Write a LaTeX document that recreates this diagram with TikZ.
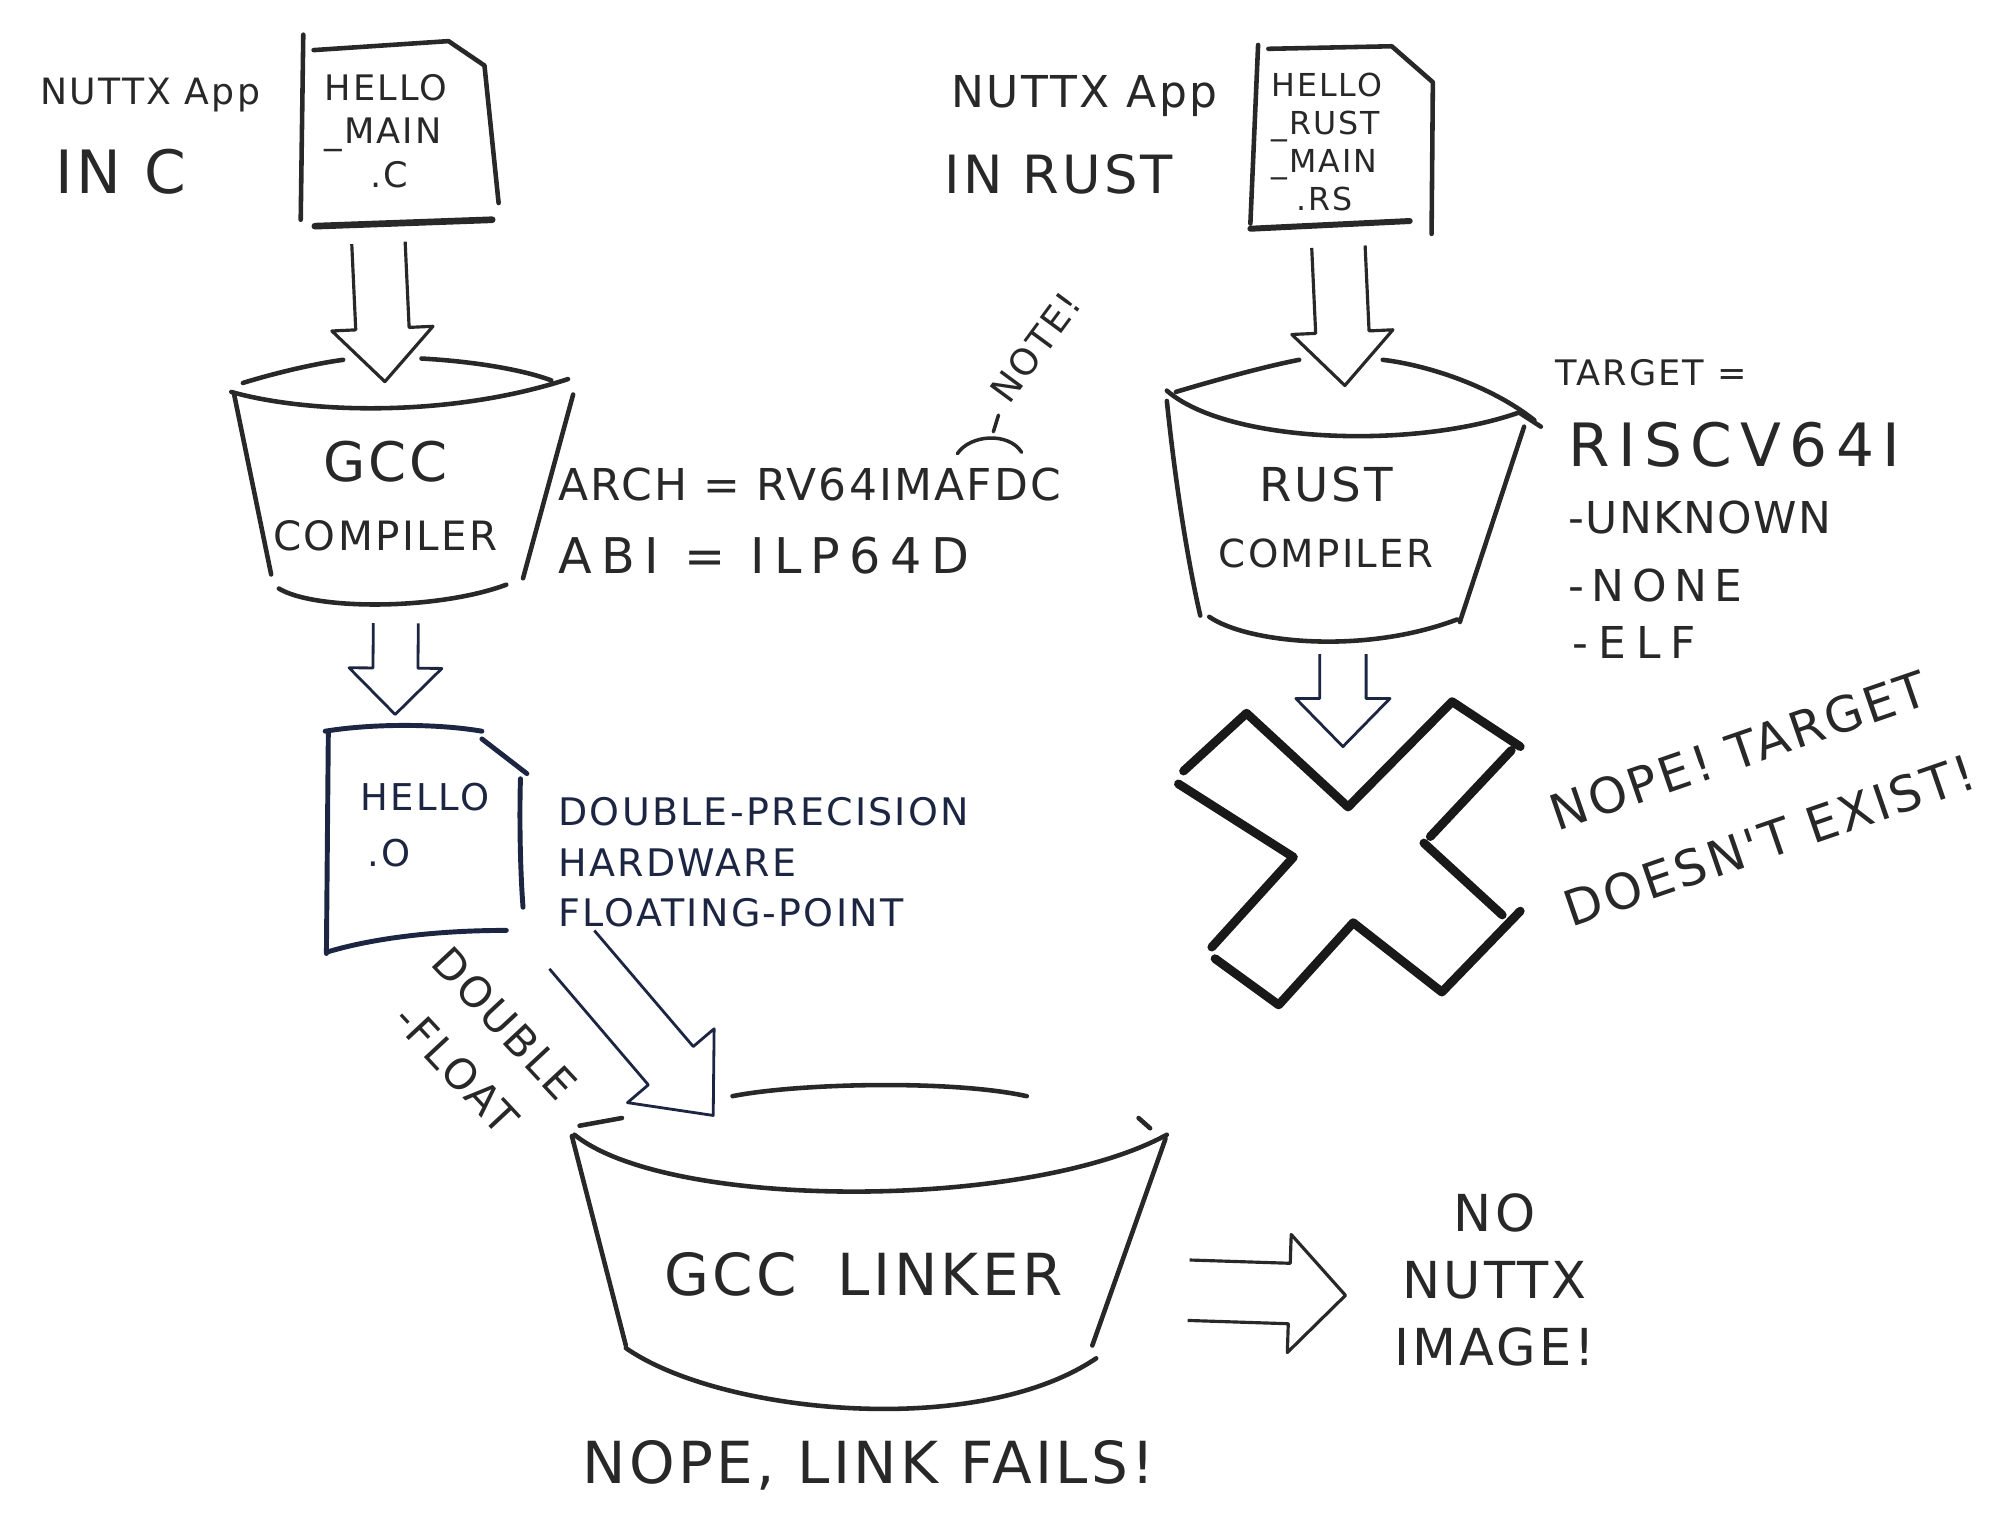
\documentclass[tikz,border=0pt]{standalone}
\usepackage{fontspec}
\setmainfont{DejaVu Sans}
\newfontfamily\handfont{DejaVu Sans}
\usetikzlibrary{calc}
\definecolor{inkc}{RGB}{40,40,40}
\definecolor{navyc}{RGB}{28,38,66}

% hand lettering: size, baselineskip, letter spacing
\newcommand{\hw}[3]{\handfont\fontsize{#1}{#2}\selectfont\addfontfeatures{LetterSpace=#3}}

% hollow block arrow: [style]{from}{to}{shaft}{head}{head length}
\newcommand{\fatarrow}[6][]{%
  \coordinate (fa-h) at ($(#3)!#6!(#2)$);
  \draw[#1] ($(#2)!#4!90:(#3)$) -- ($(fa-h)!#4!90:(#3)$)
    -- ($(fa-h)!#5!90:(#3)$) -- (#3) -- ($(fa-h)!#5!-90:(#3)$)
    -- ($(fa-h)!#4!-90:(#3)$) -- ($(#2)!#4!-90:(#3)$);}

\begin{document}
\begin{tikzpicture}[x=0.01285cm, y=-0.01285cm,
  pen/.style={draw=inkc, line width=1.3pt, line cap=round, line join=round},
  bluepen/.style={draw=navyc, line width=1.4pt, line cap=round, line join=round},
  arrowpen/.style={draw=inkc, line width=0.9pt, line join=round},
  bluearrow/.style={draw=navyc, line width=0.8pt, line join=round},
  fatpen/.style={draw=black!90, line width=2.5pt, line cap=round, line join=round},
  txt/.style={inner sep=0pt, text=inkc},
  bluetxt/.style={inner sep=0pt, text=navyc}]
  \useasboundingbox (0,0) rectangle (1568,1194);

  % C app
  \node[txt, font=\hw{10.3}{12}{6}] (capp) at (117,74) {NUTTX App};
  \node[txt, font=\hw{17}{20}{6}] (clang) at (94,134) {IN C};
  \draw[pen] (236,27) -- (234,171);
  \draw[pen] (244,39) -- (349,32) -- (377,51) -- (388,158);
  \draw[pen, line width=1.9pt] (245,176) -- (383,171);
  \node[txt, align=left, anchor=north west, font=\hw{10}{12.5}{6}] (csrc) at (252,57) {HELLO\\\_MAIN\\\hspace{1.3em}.C};

  \coordinate (a1s) at (294.5,189);
  \coordinate (a1e) at (299.5,297);
  \fatarrow[arrowpen]{a1s}{a1e}{7.6pt}{14.4pt}{15.1pt}

  % GCC compiler
  \draw[pen] (189,298) .. controls (215,290) and (245,283) .. (267,280);
  \draw[pen] (328,279) .. controls (365,281) and (405,287) .. (429,296);
  \draw[pen] (180,305) .. controls (240,322) and (350,325) .. (442,295);
  \draw[pen] (182,306) -- (211,447);
  \draw[pen] (446,307) -- (407,450);
  \draw[pen] (217,458) .. controls (245,475) and (340,475) .. (394,455);
  \node[txt, align=center, anchor=north, font=\hw{11.5}{19.5}{6}] (gcc) at (300,343) {{\hw{15.5}{19.5}{6}GCC}\\COMPILER};

  \node[txt, anchor=west, font=\hw{12.5}{15}{5}] (arch) at (434,377) {ARCH = RV64IMAFDC};
  \node[txt, anchor=west, font=\hw{14}{17}{19}] (abi) at (434,432) {ABI = ILP64D};
  \draw[pen, line width=1pt] (745,353) .. controls (755,338) and (785,336) .. (795,352);
  \draw[pen, line width=1pt] (773,336) -- (777,323);
  \node[txt, rotate=53.6, font=\hw{10.4}{12}{6}] (note) at (806,270) {NOTE!};

  \coordinate (a2s) at (308,485);
  \coordinate (a2e) at (307.5,556);
  \fatarrow[bluearrow]{a2s}{a2e}{6.4pt}{13.2pt}{13.2pt}

  % object file
  \draw[bluepen] (253,569) .. controls (290,563) and (340,563) .. (375,569);
  \draw[bluepen] (375,575) -- (410,602);
  \draw[bluepen] (405,606) .. controls (404,640) and (405,680) .. (407,706);
  \draw[bluepen] (255.5,569) -- (254,742);
  \draw[bluepen] (254,741) .. controls (290,730) and (340,724) .. (394,724);
  \node[bluetxt, align=left, anchor=north west, font=\hw{10.5}{16}{6}] (obj) at (280,609) {HELLO\\\hspace{0.2em}.O};

  \node[bluetxt, align=left, anchor=north west, font=\hw{10.8}{14.4}{6}] (dp) at (434,620) {DOUBLE-PRECISION\\HARDWARE\\FLOATING-POINT};
  \node[txt, rotate=-47, align=center, font=\hw{12}{19}{6}] (dfl) at (374,814) {DOUBLE\\-FLOAT};

  \coordinate (a5s) at (445,739);
  \coordinate (a5e) at (555,868);
  \fatarrow[bluearrow]{a5s}{a5e}{8.4pt}{16.2pt}{18.6pt}

  % GCC linker
  \draw[pen] (451,876) -- (484,870);
  \draw[pen] (570,853) .. controls (620,843) and (740,840) .. (799,853);
  \draw[pen] (886,870) -- (895,878);
  \draw[pen] (447,883) .. controls (520,942) and (800,942) .. (908,883);
  \draw[pen] (445,884) -- (487,1047);
  \draw[pen] (907,886) -- (850,1047);
  \draw[pen] (487,1049) .. controls (560,1100) and (760,1120) .. (853,1057);
  \node[txt, font=\hw{16.5}{20}{6}] (lnk) at (672,992) {GCC\hspace{0.7em}LINKER};
  \node[txt, font=\hw{16.5}{20}{6}] (fail) at (676,1140) {NOPE, LINK FAILS!};

  \coordinate (a6s) at (925,1004);
  \coordinate (a6e) at (1047,1008);
  \fatarrow[arrowpen]{a6s}{a6e}{8.6pt}{16.8pt}{16pt}
  \node[txt, align=center, font=\hw{14.5}{19}{6}] (noimg) at (1163,996) {NO\\NUTTX\\IMAGE!};

  % Rust app
  \node[txt, font=\hw{12.5}{15}{6}] (rapp) at (844,75) {NUTTX App};
  \node[txt, font=\hw{15}{18}{6}] (rlang) at (824,136) {IN RUST};
  \draw[pen] (979,35) -- (973,174);
  \draw[pen] (987,38) -- (1083,36) -- (1115,64) -- (1114,182);
  \draw[pen, line width=1.7pt] (973,178) -- (1097,172);
  \node[txt, align=left, anchor=north west, font=\hw{9}{10.8}{6}] (rsrc) at (989,56) {HELLO\\\_RUST\\\_MAIN\\\hspace{0.8em}.RS};

  \coordinate (a3s) at (1041.5,192);
  \coordinate (a3e) at (1046.5,300);
  \fatarrow[arrowpen]{a3s}{a3e}{7.6pt}{14.4pt}{15.2pt}

  % Rust compiler
  \draw[pen] (915,305) .. controls (945,296) and (985,285) .. (1011,280);
  \draw[pen] (1076,280) .. controls (1110,284) and (1160,300) .. (1194,327);
  \draw[pen] (908,304) .. controls (955,345) and (1100,350) .. (1182,321) -- (1199,332);
  \draw[pen] (908,312) .. controls (915,380) and (925,440) .. (934,479);
  \draw[pen] (1186,332) -- (1136,484);
  \draw[pen] (941,480) .. controls (970,500) and (1060,510) .. (1134,482);
  \node[txt, align=center, anchor=north, font=\hw{11}{18.6}{6}] (rustc) at (1032,363) {{\hw{13.3}{18.6}{6}RUST}\\COMPILER};

  \node[txt, anchor=west, font=\hw{10}{12}{6}] (tgt) at (1210,290) {TARGET =};
  \node[txt, anchor=west, font=\hw{17}{20}{14}] (triple) at (1220,346) {RISCV64I};
  \node[txt, anchor=west, font=\hw{12.5}{15}{3}] (tvend) at (1220,403) {-UNKNOWN};
  \node[txt, anchor=west, font=\hw{12.5}{15}{17}] (tos) at (1220,456) {-NONE};
  \node[txt, anchor=west, font=\hw{12.5}{15}{23}] (tabi) at (1223,500) {-ELF};

  \coordinate (a4s) at (1045,509);
  \coordinate (a4e) at (1045,581);
  \fatarrow[bluearrow]{a4s}{a4e}{6.6pt}{13.4pt}{13.7pt}

  % big cross
  \draw[fatpen] (921,600) -- (970,555) -- (1049,628) -- (1130,546) -- (1183,581);
  \draw[fatpen] (1176,584) -- (1113,651);
  \draw[fatpen] (1108,656) -- (1169,712);
  \draw[fatpen] (1183,709) -- (1122,772) -- (1053,718) -- (995,782) -- (945.5,746);
  \draw[fatpen] (943,737) -- (1006.5,667) -- (917,610);
  \node[txt, rotate=19, align=center, font=\hw{14}{27}{6}] (nope) at (1365,619) {NOPE! TARGET\\DOESN'T EXIST!};
\end{tikzpicture}
\end{document}
